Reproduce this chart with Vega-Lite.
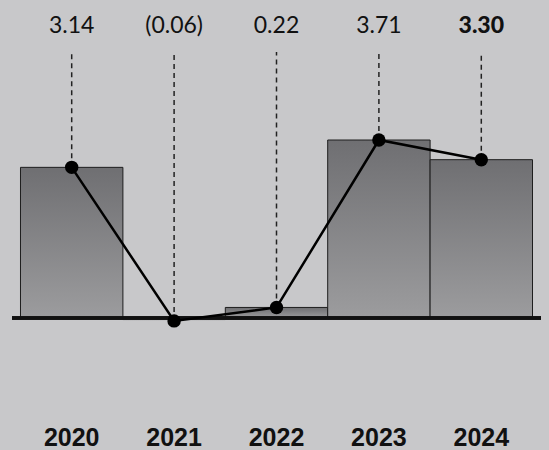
{
  "$schema": "https://vega.github.io/schema/vega-lite/v6.json",
  "width": 529,
  "height": 450,
  "autosize": "none",
  "padding": {"left": 12, "right": 8, "top": 0, "bottom": 0},
  "background": "#c8c8ca",
  "config": {"view": {"stroke": null}},
  "data": {
    "values": [
      {"year": "2020", "value": 3.14, "label": "3.14"},
      {"year": "2021", "value": -0.06, "label": "(0.06)"},
      {"year": "2022", "value": 0.22, "label": "0.22"},
      {"year": "2023", "value": 3.71, "label": "3.71"},
      {"year": "2024", "value": 3.30, "label": "3.30"}
    ]
  },
  "layer": [
    {
      "transform": [{"filter": "datum.value >= 0"}],
      "mark": {
        "type": "bar",
        "stroke": "#1e1e1e",
        "strokeWidth": 1,
        "fill": {
          "gradient": "linear", "x1": 0, "y1": 0, "x2": 0, "y2": 1,
          "stops": [{"offset": 0, "color": "#6f6f72"}, {"offset": 1, "color": "#9c9c9e"}]
        }
      },
      "encoding": {
        "x": {
          "field": "year", "type": "nominal", "sort": null, "axis": null,
          "scale": {"type": "band", "domain": ["2020", "2021", "2022", "2023", "2024"], "paddingInner": 0, "paddingOuter": 0.083}
        },
        "y": {
          "field": "value", "type": "quantitative", "axis": null,
          "scale": {"domain": [-2.751, 6.628], "nice": false, "zero": false}
        }
      }
    },
    {
      "transform": [{"filter": "datum.value < 0"}],
      "mark": {
        "type": "bar",
        "strokeWidth": 0,
        "fill": {
          "gradient": "linear", "x1": 0, "y1": 0, "x2": 0, "y2": 1,
          "stops": [{"offset": 0, "color": "#a2a2a4"}, {"offset": 1, "color": "#c4c4c6"}]
        }
      },
      "encoding": {
        "x": {"field": "year", "type": "nominal", "sort": null},
        "y": {"field": "value", "type": "quantitative"}
      }
    },
    {
      "mark": {"type": "rule", "color": "#111111", "strokeWidth": 3},
      "encoding": {"y": {"datum": 0, "type": "quantitative"}}
    },
    {
      "mark": {"type": "rule", "color": "#222222", "strokeWidth": 1.5, "strokeDash": [5, 4]},
      "encoding": {
        "x": {"field": "year", "type": "nominal", "sort": null},
        "y": {"field": "value", "type": "quantitative"},
        "y2": {"datum": 5.544}
      }
    },
    {
      "mark": {"type": "line", "color": "#000000", "strokeWidth": 2.5},
      "encoding": {
        "x": {"field": "year", "type": "nominal", "sort": null},
        "y": {"field": "value", "type": "quantitative"}
      }
    },
    {
      "mark": {"type": "point", "shape": "circle", "filled": true, "color": "#000000", "opacity": 1, "size": 180},
      "encoding": {
        "x": {"field": "year", "type": "nominal", "sort": null},
        "y": {"field": "value", "type": "quantitative"}
      }
    },
    {
      "transform": [{"filter": "datum.year != '2024'"}],
      "mark": {"type": "text", "font": "Lato", "fontSize": 23, "color": "#111111", "baseline": "middle"},
      "encoding": {
        "x": {"field": "year", "type": "nominal", "sort": null},
        "y": {"datum": 6.09, "type": "quantitative"},
        "text": {"field": "label", "type": "nominal"}
      }
    },
    {
      "transform": [{"filter": "datum.year == '2024'"}],
      "mark": {"type": "text", "font": "Lato", "fontSize": 23, "fontWeight": 900, "color": "#111111", "baseline": "middle"},
      "encoding": {
        "x": {"field": "year", "type": "nominal", "sort": null},
        "y": {"datum": 6.09, "type": "quantitative"},
        "text": {"field": "label", "type": "nominal"}
      }
    },
    {
      "mark": {"type": "text", "font": "Liberation Sans", "fontSize": 25, "fontWeight": "bold", "color": "#111111", "baseline": "middle"},
      "encoding": {
        "x": {"field": "year", "type": "nominal", "sort": null},
        "y": {"datum": -2.51, "type": "quantitative"},
        "text": {"field": "year", "type": "nominal"}
      }
    }
  ]
}
